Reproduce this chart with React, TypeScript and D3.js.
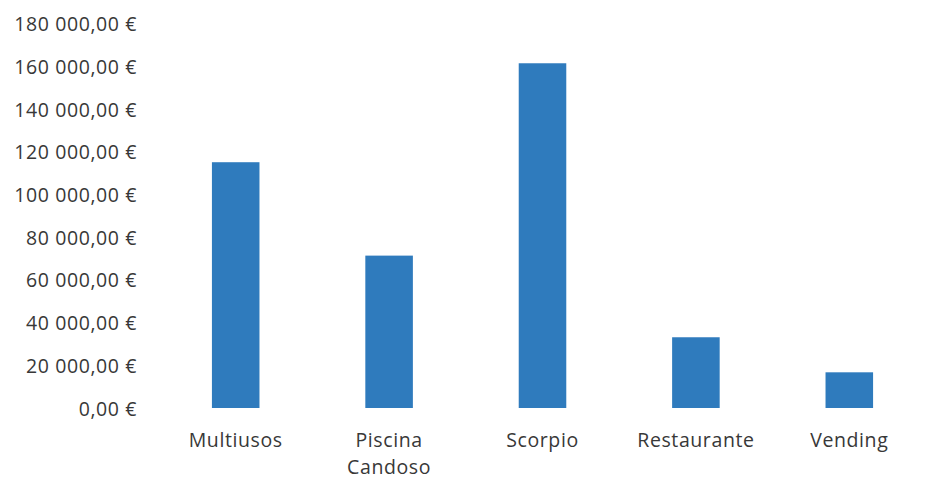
import React from "react";
import * as d3 from "d3";

const categories: string[][] = [
  ["Multiusos"],
  ["Piscina", "Candoso"],
  ["Scorpio"],
  ["Restaurante"],
  ["Vending"],
];
const values: number[] = [115000, 71300, 161300, 33100, 16700];
const tickValues: number[] = [0, 20000, 40000, 60000, 80000, 100000, 120000, 140000, 160000, 180000];

const WIDTH = 944;
const HEIGHT = 479;

const euro = d3.formatLocale({
  decimal: ",",
  thousands: " ",
  grouping: [3],
  currency: ["", " €"],
});
const fmt = euro.format("$,.2f");

export default function App() {
  const keys = categories.map((c) => c.join(" "));
  const x = d3
    .scaleBand<string>()
    .domain(keys)
    .range([159, 926])
    .paddingInner(0.69)
    .paddingOuter(0.345);
  const y = d3.scaleLinear().domain([0, 180000]).range([408, 23.3]);

  const font = "'Open Sans', sans-serif";
  const textColor = "#383838";

  return (
    <svg
      width={WIDTH}
      height={HEIGHT}
      style={{ position: "absolute", left: 0, top: 0, background: "#fff" }}
    >
      <rect width={WIDTH} height={HEIGHT} fill="#fff" />
      <g fontFamily={font} fontSize={19.5} fill={textColor} letterSpacing={0.6}>
        {tickValues.map((t) => (
          <text key={t} x={137} y={y(t) + 2.5} textAnchor="end" dominantBaseline="middle">
            {fmt(t)}
          </text>
        ))}
      </g>
      <g fill="#2f7bbd">
        {values.map((v, i) => (
          <rect
            key={keys[i]}
            x={x(keys[i])}
            y={y(v)}
            width={x.bandwidth()}
            height={y(0) - y(v)}
          />
        ))}
      </g>
      <g fontFamily={font} fontSize={19.5} fill={textColor} letterSpacing={0.6}>
        {categories.map((lines, i) => {
          const cx = (x(keys[i]) as number) + x.bandwidth() / 2;
          return (
            <text key={keys[i]} x={cx} y={447} textAnchor="middle">
              {lines.map((ln, j) => (
                <tspan key={j} x={cx} dy={j === 0 ? 0 : 26.5}>
                  {ln}
                </tspan>
              ))}
            </text>
          );
        })}
      </g>
    </svg>
  );
}
